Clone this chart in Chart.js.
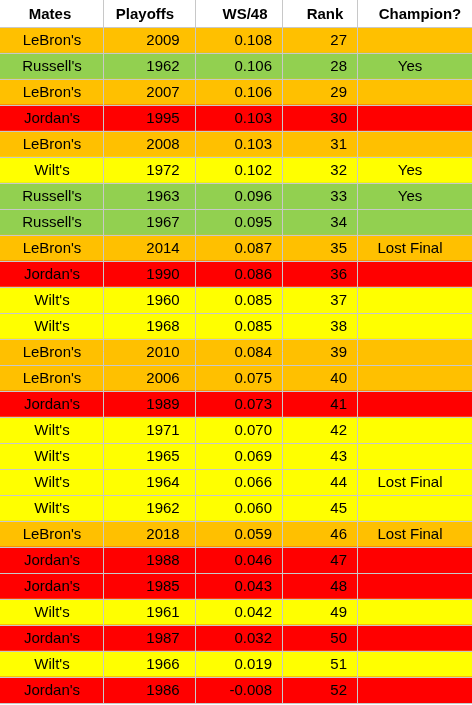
<!DOCTYPE html>
<html>
<head>
<meta charset="utf-8">
<script src="https://cdn.jsdelivr.net/npm/chart.js@4"></script>
<style>
  html, body { margin: 0; padding: 0; background: #fff; }
  #wrap { width: 472px; height: 705px; }
</style>
</head>
<body>
<div id="wrap"><canvas id="tbl"></canvas></div>
<script>
// --- données du tableau ---
const mates = ["LeBron's","Russell's","LeBron's","Jordan's","LeBron's","Wilt's","Russell's","Russell's","LeBron's","Jordan's","Wilt's","Wilt's","LeBron's","LeBron's","Jordan's","Wilt's","Wilt's","Wilt's","Wilt's","LeBron's","Jordan's","Jordan's","Wilt's","Jordan's","Wilt's","Jordan's"];
const playoffs = [2009,1962,2007,1995,2008,1972,1963,1967,2014,1990,1960,1968,2010,2006,1989,1971,1965,1964,1962,2018,1988,1985,1961,1987,1966,1986];
const ws48 = ["0.108","0.106","0.106","0.103","0.103","0.102","0.096","0.095","0.087","0.086","0.085","0.085","0.084","0.075","0.073","0.070","0.069","0.066","0.060","0.059","0.046","0.043","0.042","0.032","0.019","-0.008"];
const ranks = [27,28,29,30,31,32,33,34,35,36,37,38,39,40,41,42,43,44,45,46,47,48,49,50,51,52];
const champion = ["","Yes","","","","Yes","Yes","","Lost Final","","","","","","","","","Lost Final","","Lost Final","","","","","",""];
const headers = ["Mates","Playoffs","WS/48","Rank","Champion?"];

const mateColors = { "LeBron's": "#FFC000", "Russell's": "#92D050", "Jordan's": "#FF0000", "Wilt's": "#FFFF00" };
const colEdges = [0, 103, 195, 282, 357, 472];
const FONT = "15px 'Liberation Sans', Arial, sans-serif";

// texte + grille dessinés par-dessus les barres
const tablePlugin = {
    id: 'tablePlugin',
    afterDatasetsDraw(chart) {
        const ctx = chart.ctx, x = chart.scales.x, y = chart.scales.y, area = chart.chartArea;
        const rowH = area.height / mates.length;
        ctx.save();
        // grille
        ctx.strokeStyle = '#c8c8c8';
        ctx.lineWidth = 1;
        for (let i = 0; i <= mates.length; i++) {
            const py = Math.round(area.top + i * rowH) + 0.5;
            ctx.beginPath(); ctx.moveTo(0, py); ctx.lineTo(472, py); ctx.stroke();
        }
        colEdges.slice(1, -1).forEach(c => {
            const px = Math.round(x.getPixelForValue(c)) + 0.5;
            ctx.beginPath(); ctx.moveTo(px, 0); ctx.lineTo(px, area.bottom); ctx.stroke();
        });
        // en-tête
        ctx.fillStyle = '#000';
        ctx.textBaseline = 'middle';
        ctx.font = "bold " + FONT;
        ctx.textAlign = 'center';
        const hx = [50, 145, 245, 325, 420];
        headers.forEach((h, i) => ctx.fillText(h, x.getPixelForValue(hx[i]), area.top / 2 + 1));
        // lignes
        ctx.font = FONT;
        for (let i = 0; i < mates.length; i++) {
            const cy = y.getPixelForValue(i) + 1;
            ctx.textAlign = 'center';
            ctx.fillText(mates[i], x.getPixelForValue(52), cy);
            ctx.fillText(String(playoffs[i]), x.getPixelForValue(163), cy);
            ctx.fillText(champion[i], x.getPixelForValue(410), cy);
            ctx.textAlign = 'right';
            ctx.fillText(ws48[i], x.getPixelForValue(272), cy);
            ctx.fillText(String(ranks[i]), x.getPixelForValue(347), cy);
        }
        ctx.restore();
    }
};

new Chart(document.getElementById('tbl'), {
    type: 'bar',
    data: {
        labels: mates.map((m, i) => i),
        datasets: [{
            data: mates.map(() => 472),
            backgroundColor: mates.map(m => mateColors[m]),
            borderWidth: 0,
            barPercentage: 1,
            categoryPercentage: 1
        }]
    },
    options: {
        indexAxis: 'y',
        responsive: true,
        maintainAspectRatio: false,
        animation: false,
        layout: { padding: { top: 27, bottom: 2, left: 0, right: 0 } },
        plugins: { legend: { display: false }, tooltip: { enabled: false } },
        scales: {
            x: { display: false, min: 0, max: 472 },
            y: { display: false }
        }
    },
    plugins: [tablePlugin]
});
</script>
</body>
</html>
